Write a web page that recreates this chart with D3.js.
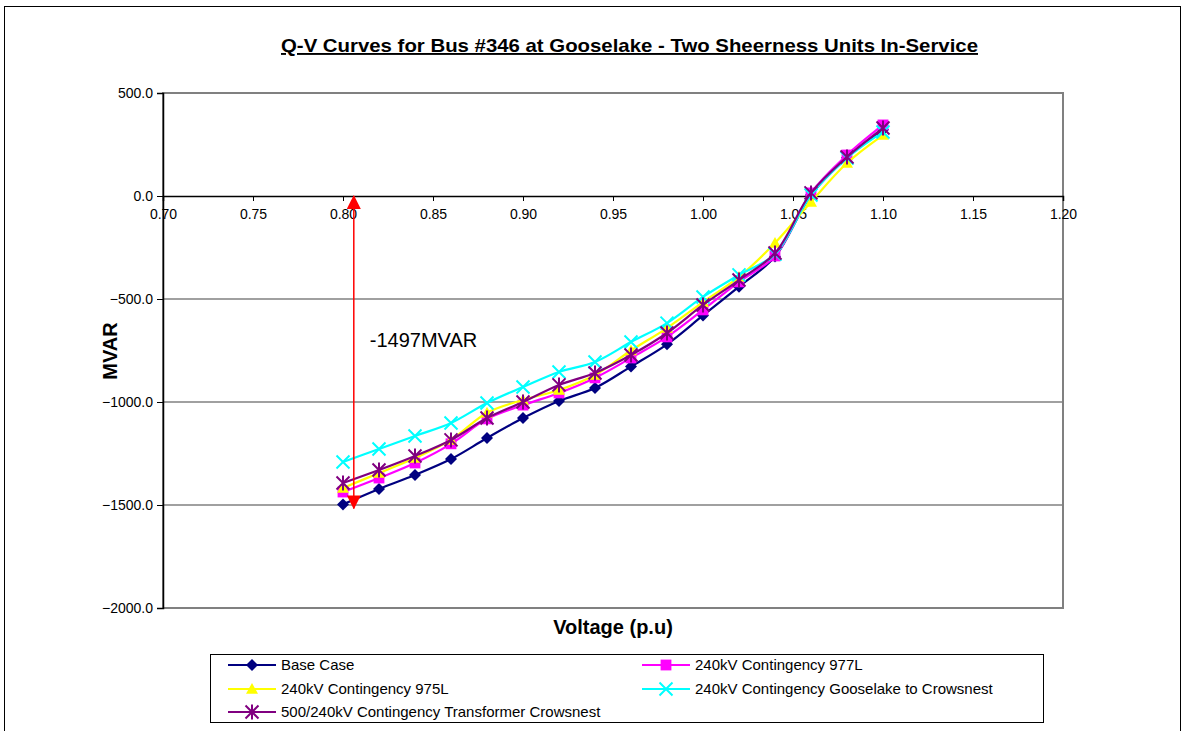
<!DOCTYPE html>
<html>
<head>
<meta charset="utf-8">
<script src="https://cdn.jsdelivr.net/npm/d3@7"></script>
<style>
  html, body { margin: 0; padding: 0; background: #fff; }
  svg { display: block; font-family: "Liberation Sans", Arial, sans-serif; }
</style>
</head>
<body>
<svg id="chart" width="1184" height="731"></svg>
<script>
// ---- Data ----
const voltage = [0.80, 0.82, 0.84, 0.86, 0.88, 0.90, 0.92, 0.94, 0.96, 0.98, 1.00, 1.02, 1.04, 1.06, 1.08, 1.10];
const baseCase     = [-1497, -1422, -1354, -1277, -1175, -1078, -995, -932, -828, -720, -580, -440, -294, 5, 186, 322];
const cont977L     = [-1437, -1369, -1296, -1203, -1082, -1015, -956, -883, -786, -684, -553, -417, -291, 15, 199, 345];
const cont975L     = [-1417, -1345, -1272, -1184, -1052, -990, -942, -869, -750, -641, -515, -393, -228, -29, 160, 296];
const contGooselake = [-1291, -1228, -1165, -1102, -1005, -927, -854, -806, -709, -617, -490, -383, -282, 5, 184, 311];
const contTransformer = [-1393, -1330, -1262, -1184, -1078, -1000, -917, -859, -772, -665, -529, -408, -277, 15, 189, 330];

const seriesNames = ["Base Case", "240kV Contingency 977L", "240kV Contingency 975L",
  "240kV Contingency Gooselake to Crowsnest", "500/240kV Contingency Transformer Crowsnest"];
const seriesValues = [baseCase, cont977L, cont975L, contGooselake, contTransformer];
const seriesColors = ["#000080", "#FF00FF", "#FFFF00", "#00FFFF", "#800080"];
const seriesMarkers = ["diamond", "square", "triangle", "x", "asterisk"];

const xTicks = [0.70, 0.75, 0.80, 0.85, 0.90, 0.95, 1.00, 1.05, 1.10, 1.15, 1.20];
const yTicks = [500, 0, -500, -1000, -1500, -2000];

const arrowX = 0.806;
const arrowTop = 0;
const arrowBottom = -1497;
const arrowLabel = "-1497MVAR";

const titleText = "Q-V Curves for Bus #346 at Gooselake - Two Sheerness Units In-Service";
const xTitle = "Voltage (p.u)";
const yTitle = "MVAR";

// ---- Layout ----
const svg = d3.select("#chart");
const plot = { left: 163, top: 93, right: 1063, bottom: 608 };

const x = d3.scaleLinear().domain([0.70, 1.20]).range([plot.left, plot.right]);
const y = d3.scaleLinear().domain([-2000, 500]).range([plot.bottom, plot.top]);

// outer chart border
svg.append("rect").attr("x", 4.5).attr("y", 6.5).attr("width", 1176).attr("height", 740)
  .attr("fill", "#fff").attr("stroke", "#000").attr("stroke-width", 1);

// plot area
svg.append("rect").attr("x", plot.left).attr("y", plot.top)
  .attr("width", plot.right - plot.left).attr("height", plot.bottom - plot.top)
  .attr("fill", "#fff").attr("stroke", "#808080").attr("stroke-width", 2);

// gridlines
svg.append("g").selectAll("line").data(yTicks.filter(d => d !== 0)).join("line")
  .attr("x1", plot.left).attr("x2", plot.right)
  .attr("y1", d => y(d)).attr("y2", d => y(d))
  .attr("stroke", "#808080").attr("stroke-width", 1.5);

// y axis
const yAxis = d3.axisLeft(y).tickValues(yTicks).tickFormat(d3.format(".1f")).tickSize(6).tickPadding(4);
const gy = svg.append("g").attr("transform", `translate(${plot.left},0)`).call(yAxis);
gy.select(".domain").attr("stroke", "#000").attr("stroke-width", 1.5);
gy.selectAll(".tick line").attr("stroke", "#000");
gy.selectAll(".tick text").attr("font-size", 14).attr("fill", "#000")
  .attr("font-family", "'Liberation Sans', Arial, sans-serif");

// x axis at y = 0
const xAxis = d3.axisBottom(x).tickValues(xTicks).tickFormat(d3.format(".2f")).tickSize(5).tickPadding(8);
const gx = svg.append("g").attr("transform", `translate(0,${y(0)})`).call(xAxis);
gx.select(".domain").attr("stroke", "#000").attr("stroke-width", 1.5);
gx.selectAll(".tick line").attr("stroke", "#000");
gx.selectAll(".tick text").attr("font-size", 14).attr("fill", "#000")
  .attr("font-family", "'Liberation Sans', Arial, sans-serif");

// marker shapes
function drawMarker(g, type, color, size) {
  const s = size / 2;
  if (type === "diamond") {
    g.append("path").attr("d", `M0,${-s}L${s},0L0,${s}L${-s},0Z`).attr("fill", color);
  } else if (type === "square") {
    g.append("rect").attr("x", -s * 0.9).attr("y", -s * 0.9).attr("width", s * 1.8).attr("height", s * 1.8).attr("fill", color);
  } else if (type === "triangle") {
    g.append("path").attr("d", `M0,${-s}L${s},${s * 0.8}L${-s},${s * 0.8}Z`).attr("fill", color);
  } else if (type === "x") {
    g.append("path").attr("d", `M${-s},${-s}L${s},${s}M${s},${-s}L${-s},${s}`)
      .attr("stroke", color).attr("stroke-width", 2).attr("fill", "none");
  } else if (type === "asterisk") {
    g.append("path").attr("d", `M${-s},${-s}L${s},${s}M${s},${-s}L${-s},${s}M0,${-s * 1.15}L0,${s * 1.15}`)
      .attr("stroke", color).attr("stroke-width", 2).attr("fill", "none");
  }
}

const markerSizes = { diamond: 12, square: 12, triangle: 12, x: 13, asterisk: 13 };

// series
const line = d3.line().x(d => x(d[0])).y(d => y(d[1])).curve(d3.curveCatmullRom.alpha(0.5));
seriesValues.forEach((vals, i) => {
  const pts = voltage.map((v, j) => [v, vals[j]]);
  const g = svg.append("g");
  g.append("path").datum(pts).attr("d", line)
    .attr("fill", "none").attr("stroke", seriesColors[i]).attr("stroke-width", 2.2);
  g.selectAll("g.pt").data(pts).join("g").attr("class", "pt")
    .attr("transform", d => `translate(${x(d[0])},${y(d[1])})`)
    .each(function () { drawMarker(d3.select(this), seriesMarkers[i], seriesColors[i], markerSizes[seriesMarkers[i]]); });
});

// red double arrow
const defs = svg.append("defs");
defs.append("marker").attr("id", "arrowEnd").attr("viewBox", "0 0 14 14")
  .attr("refX", 13).attr("refY", 7).attr("markerWidth", 14).attr("markerHeight", 14)
  .attr("markerUnits", "userSpaceOnUse").attr("orient", "auto")
  .append("path").attr("d", "M0,0L14,7L0,14Z").attr("fill", "#FF0000");
defs.append("marker").attr("id", "arrowStart").attr("viewBox", "0 0 14 14")
  .attr("refX", 1).attr("refY", 7).attr("markerWidth", 14).attr("markerHeight", 14)
  .attr("markerUnits", "userSpaceOnUse").attr("orient", "auto")
  .append("path").attr("d", "M14,0L0,7L14,14Z").attr("fill", "#FF0000");
svg.append("line")
  .attr("x1", x(arrowX)).attr("x2", x(arrowX))
  .attr("y1", y(arrowTop)).attr("y2", y(arrowBottom) + 4)
  .attr("stroke", "#FF0000").attr("stroke-width", 1.5)
  .attr("marker-start", "url(#arrowStart)").attr("marker-end", "url(#arrowEnd)");
svg.append("text").attr("x", x(arrowX) + 16).attr("y", 347)
  .attr("font-size", 20).attr("fill", "#000").text(arrowLabel);

// title
svg.append("text").attr("x", (281 + 978) / 2).attr("y", 52)
  .attr("text-anchor", "middle").attr("font-size", 19).attr("font-weight", "bold")
  .attr("text-decoration", "underline")
  .attr("textLength", 697).attr("lengthAdjust", "spacingAndGlyphs")
  .text(titleText);

// axis titles
svg.append("text").attr("x", 613).attr("y", 634)
  .attr("text-anchor", "middle").attr("font-size", 20).attr("font-weight", "bold").text(xTitle);
svg.append("text").attr("transform", `translate(117,351)rotate(-90)`)
  .attr("text-anchor", "middle").attr("font-size", 20).attr("font-weight", "bold").text(yTitle);

// legend
const lg = svg.append("g");
lg.append("rect").attr("x", 210.5).attr("y", 654.5).attr("width", 833).attr("height", 68)
  .attr("fill", "#fff").attr("stroke", "#000").attr("stroke-width", 1);
const legendPos = [[228, 665], [642, 665], [228, 689], [642, 689], [228, 712]];
seriesNames.forEach((name, i) => {
  const [lx, ly] = legendPos[i];
  const g = lg.append("g");
  g.append("line").attr("x1", lx).attr("x2", lx + 48).attr("y1", ly).attr("y2", ly)
    .attr("stroke", seriesColors[i]).attr("stroke-width", 2.2);
  const mg = g.append("g").attr("transform", `translate(${lx + 24},${ly})`);
  drawMarker(mg, seriesMarkers[i], seriesColors[i], markerSizes[seriesMarkers[i]]);
  g.append("text").attr("x", lx + 53).attr("y", ly + 5).attr("font-size", 15).attr("fill", "#000").text(name);
});
</script>
</body>
</html>
